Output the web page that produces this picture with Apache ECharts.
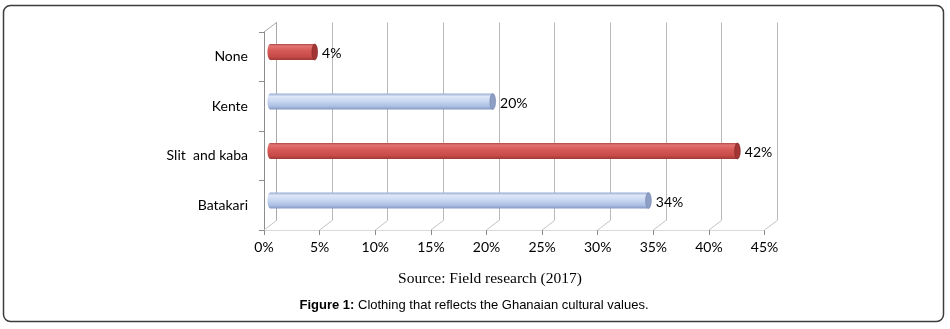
<!DOCTYPE html>
<html>
<head>
<meta charset="utf-8">
<title>Clothing that reflects the Ghanaian cultural values</title>
<script src="https://cdn.jsdelivr.net/npm/echarts@6/dist/echarts.min.js"></script>
<style>
  html, body { margin: 0; padding: 0; background: #ffffff; }
  #chart { width: 950px; height: 329px; }
</style>
</head>
<body>
<div id="chart"></div>
<script>
// Survey answers, listed bottom to top as they appear on the category axis
const categories = ['Batakari', 'Slit  and kaba', 'Kente', 'None'];
const shares = [34, 42, 20, 4];            // percent of respondents
const axisTicks = [0, 5, 10, 15, 20, 25, 30, 35, 40, 45];
const sourceNote = 'Source: Field research (2017)';
const captionLead = 'Figure 1:';
const captionText = ' Clothing that reflects the Ghanaian cultural values.';

const FONT = 'Lato, "Open Sans", sans-serif';

// Depth offset of the pseudo-3D box (front plane -> back wall)
const DEPTH_X = 12.5, DEPTH_Y = -9.5;
const PLOT_W = 500.6, PLOT_H = 198;
const FRONT = { left: 264, top: 32 };

const tones = {
  red: {
    body: [[0, '#b24a48'], [0.12, '#e27572'], [0.4, '#d65a57'], [0.8, '#c64b48'], [1, '#a03936']],
    cap: '#a23634', capEdge: '#7e2624'
  },
  blue: {
    body: [[0, '#98acd3'], [0.18, '#dde7f8'], [0.5, '#c7d6f0'], [0.82, '#a9bce2'], [1, '#8397c3']],
    cap: '#8d9fc4', capEdge: '#6f81a8'
  }
};

function gradient(stops) {
  return new echarts.graphic.LinearGradient(0, 0, 0, 1,
    stops.map(s => ({ offset: s[0], color: s[1] })));
}

const chart = echarts.init(document.getElementById('chart'), null, { renderer: 'canvas' });

const option = {
  animation: false,
  backgroundColor: '#ffffff',
  grid: [
    // back wall
    { left: FRONT.left + DEPTH_X, top: FRONT.top + DEPTH_Y, width: PLOT_W, height: PLOT_H },
    // front plane (labels, ticks)
    { left: FRONT.left, top: FRONT.top, width: PLOT_W, height: PLOT_H },
    // mid depth where the cylinders sit
    { left: FRONT.left + DEPTH_X / 2, top: FRONT.top + DEPTH_Y / 2, width: PLOT_W, height: PLOT_H }
  ],
  xAxis: [
    {
      gridIndex: 0, type: 'value', min: 0, max: 45, interval: 5,
      axisLine: { show: false }, axisTick: { show: false }, axisLabel: { show: false },
      splitLine: { show: true, lineStyle: { color: '#b9b9b9', width: 1 } }
    },
    {
      gridIndex: 1, type: 'value', min: 0, max: 45, interval: 5,
      axisLine: { show: true, lineStyle: { color: '#d9d9d9', width: 1 } },
      axisTick: { show: true, length: 5, lineStyle: { color: '#8a8a8a' } },
      axisLabel: { show: true, formatter: '{value}%', margin: 10, color: '#000', fontSize: 14, fontFamily: FONT },
      splitLine: { show: false }
    },
    {
      gridIndex: 2, type: 'value', min: 0, max: 45, interval: 5, show: false
    }
  ],
  yAxis: [
    {
      gridIndex: 0, type: 'category', data: categories,
      axisLine: { show: true, lineStyle: { color: '#a9a9a9' } },
      axisTick: { show: false }, axisLabel: { show: false }, splitLine: { show: false }
    },
    {
      gridIndex: 1, type: 'category', data: categories,
      axisLine: { show: true, lineStyle: { color: '#8c8c8c' } },
      axisTick: { show: true, length: 5, lineStyle: { color: '#8c8c8c' } },
      axisLabel: { show: true, margin: 16, color: '#000', fontSize: 14, fontFamily: FONT },
      splitLine: { show: false }
    },
    {
      gridIndex: 2, type: 'category', data: categories, show: false
    }
  ],
  series: [
    {
      // floor diagonals joining each front tick to its back-wall gridline
      type: 'custom',
      xAxisIndex: 1, yAxisIndex: 1,
      silent: true,
      data: axisTicks.map(v => [v, 0]),
      encode: { x: 0, y: 1 },
      renderItem: function (params, api) {
        const cs = params.coordSys;
        const x = api.coord([api.value(0), 0])[0];
        const bottom = cs.y + cs.height;
        const children = [{
          type: 'line',
          shape: { x1: x, y1: bottom, x2: x + DEPTH_X, y2: bottom + DEPTH_Y },
          style: { stroke: '#c4c4c4', lineWidth: 1 }
        }];
        if (api.value(0) === 0) {
          children.push({
            type: 'line',
            shape: { x1: cs.x, y1: cs.y, x2: cs.x + DEPTH_X, y2: cs.y + DEPTH_Y },
            style: { stroke: '#a9a9a9', lineWidth: 1 }
          });
        }
        return { type: 'group', children: children };
      }
    },
    {
      // cylinder bars with value labels
      type: 'custom',
      xAxisIndex: 2, yAxisIndex: 2,
      silent: true,
      data: shares.map((v, i) => [v, i]),
      encode: { x: 0, y: 1 },
      renderItem: function (params, api) {
        const v = api.value(0);
        const idx = api.value(1);
        const start = api.coord([0, idx]);
        const end = api.coord([v, idx]);
        const band = api.size([0, 1])[1];
        const h = band * 0.32;
        const rx = 2.8;
        const tone = idx % 2 === 0 ? tones.blue : tones.red;
        const fill = gradient(tone.body);
        const top = start[1] - h / 2;
        return {
          type: 'group',
          children: [
            {
              type: 'ellipse',
              shape: { cx: start[0], cy: start[1], rx: rx, ry: h / 2 },
              style: { fill: fill }
            },
            {
              type: 'rect',
              shape: { x: start[0], y: top, width: end[0] - start[0], height: h },
              style: { fill: fill }
            },
            {
              type: 'ellipse',
              shape: { cx: end[0], cy: end[1], rx: rx, ry: h / 2 },
              style: { fill: tone.cap, stroke: tone.capEdge, lineWidth: 0.6 }
            },
            {
              type: 'text',
              x: end[0] + rx + 4.5,
              y: end[1] + 1.5,
              style: {
                text: v + '%',
                fill: '#000',
                fontSize: 14,
                fontFamily: FONT,
                align: 'left',
                verticalAlign: 'middle'
              }
            }
          ]
        };
      }
    }
  ],
  graphic: [
    {
      type: 'rect',
      silent: true,
      shape: { x: 3.5, y: 5.5, width: 940, height: 316, r: 7 },
      style: { fill: 'none', stroke: '#3c3c3c', lineWidth: 1.5 }
    },
    {
      type: 'text',
      silent: true,
      x: 490, y: 279,
      style: {
        text: sourceNote,
        fill: '#000',
        fontSize: 15.5,
        fontFamily: '"Liberation Serif", "Times New Roman", serif',
        align: 'center',
        verticalAlign: 'middle'
      }
    },
    {
      type: 'text',
      silent: true,
      x: 474, y: 305,
      style: {
        text: '{b|' + captionLead + '}' + captionText,
        fill: '#000',
        fontSize: 13,
        fontFamily: '"Liberation Sans", Arial, sans-serif',
        align: 'center',
        verticalAlign: 'middle',
        rich: {
          b: { fontWeight: 'bold', fontSize: 13, fontFamily: '"Liberation Sans", Arial, sans-serif', fill: '#000' }
        }
      }
    }
  ]
};

chart.setOption(option);
</script>
</body>
</html>
